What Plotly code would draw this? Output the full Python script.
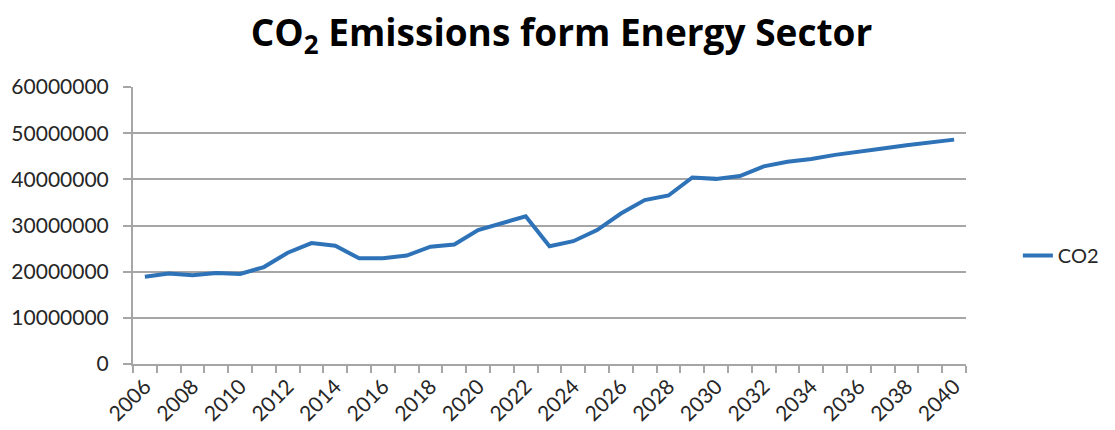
import plotly.graph_objects as go

years = list(range(2006, 2041))
co2 = [18.9e6, 19.6e6, 19.2e6, 19.7e6, 19.5e6, 21.0e6, 24.1e6, 26.2e6, 25.6e6, 22.9e6,
       22.9e6, 23.5e6, 25.4e6, 25.9e6, 29.0e6, 30.6e6, 32.0e6, 25.5e6, 26.6e6, 29.0e6,
       32.6e6, 35.5e6, 36.5e6, 40.4e6, 40.1e6, 40.7e6, 42.8e6, 43.8e6, 44.4e6, 45.3e6,
       46.1e6, 46.7e6, 47.4e6, 48.0e6, 48.6e6]
label_years = years[::2]
y_ticks = [0, 10000000, 20000000, 30000000, 40000000, 50000000, 60000000]

FONT = "Lato"
GRID = "#a6a6a6"

fig = go.Figure()
fig.add_trace(go.Scatter(x=years, y=co2, mode="lines", name="CO2",
                         line=dict(color="#2e72b8", width=4)))

# page body has an 8px default margin, so the figure is sized/offset for it
fig.update_layout(
    width=1107, height=422,
    margin=dict(l=125, r=148, t=79, b=66),
    paper_bgcolor="white", plot_bgcolor="white",
    font=dict(family=FONT, color="#262626"),
    title=dict(text="<b>CO<sub>2</sub> Emissions form Energy Sector</b>",
               x=0.5, xanchor="center", y=0.94, yanchor="middle",
               font=dict(family="Open Sans", size=37, color="black")),
    showlegend=True,
    legend=dict(x=1.061, y=0.392, xanchor="left", yanchor="middle",
                font=dict(family=FONT, size=20, color="#262626"),
                bgcolor="rgba(0,0,0,0)"),
)

fig.update_xaxes(
    range=[years[0] - 0.5, years[-1] + 0.5], automargin=False,
    tickmode="array", tickvals=label_years, ticktext=[str(v) for v in label_years],
    tickangle=-45, ticks="",
    tickfont=dict(family=FONT, size=21, color="#262626"),
    showgrid=False, zeroline=False,
    showline=True, linecolor=GRID, linewidth=2,
    minor=dict(tickmode="array", tickvals=[y - 0.5 for y in years] + [years[-1] + 0.5],
               ticks="outside", ticklen=7, tickcolor=GRID, tickwidth=2, showgrid=False),
)
fig.update_yaxes(
    range=[0, 60000000], automargin=False,
    tickmode="array", tickvals=y_ticks, tickformat=".0f",
    ticks="outside", ticklen=8, tickcolor=GRID, tickwidth=2, ticklabelstandoff=10,
    tickfont=dict(family=FONT, size=21, color="#262626"),
    showgrid=True, gridcolor=GRID, gridwidth=2,
    zeroline=False, showline=True, linecolor=GRID, linewidth=2,
)

fig.write_html("out.html")
